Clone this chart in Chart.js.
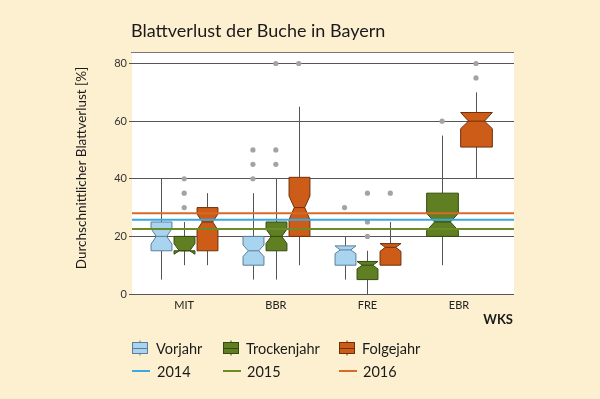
<!DOCTYPE html>
<html>
<head>
<meta charset="utf-8">
<script src="https://cdn.jsdelivr.net/npm/chart.js@4.4.1/dist/chart.umd.min.js"></script>
<style>
  html, body { margin: 0; padding: 0; background: #fdf0d0; }
  #wrap { width: 600px; height: 399px; }
</style>
</head>
<body>
<div id="wrap"><canvas id="chart" width="600" height="399"></canvas></div>
<script>
const categories = ['MIT', 'BBR', 'FRE', 'EBR'];
const seriesNames = ['Vorjahr', 'Trockenjahr', 'Folgejahr'];

// [lower whisker, Q1, median, Q3, upper whisker]; null = no box
const vorjahrStats = [[5, 15, 20, 25, 40], [5, 10, 15, 20, 35], [5, 10, 15.3, 16.7, 20], null];
const trockenStats = [[10, 15, 15, 20, 25], [5, 15, 20, 25, 40], [0, 5, 10, 11.3, 15], [10, 20, 25, 35, 55]];
const folgeStats = [[10, 15, 25, 30, 35], [10, 20, 30, 40.5, 65], [10, 10, 16.2, 17.5, 25], [40, 51, 60, 63, 70]];

// notch [low, high]
const vorjahrNotch = [[17.3, 22.7], [13, 17], [14, 16.7], null];
const trockenNotch = [[13.8, 17.5], [17.5, 22.5], [8.7, 11.3], [22, 28]];
const folgeNotch = [[22.2, 27.8], [25.8, 34], [14.8, 17.5], [57.4, 63]];

const vorjahrOutliers = [[], [40, 45, 50], [30], []];
const trockenOutliers = [[30, 35, 40], [45, 50, 80], [20, 25, 35], [60]];
const folgeOutliers = [[], [80], [35], [75, 80]];

const yearLabels = ['2014', '2015', '2016'];
const yearMeans = [25.75, 22.6, 28.05];
const yTicks = [0, 20, 40, 60, 80];

const allStats = [vorjahrStats, trockenStats, folgeStats];
const allNotch = [vorjahrNotch, trockenNotch, folgeNotch];
const allOutliers = [vorjahrOutliers, trockenOutliers, folgeOutliers];

// layout of the boxes inside each category
const slotOffset = [[-0.25, 0, 0.25], [-0.25, 0, 0.25], [-0.25, 0, 0.25], [0, -0.185, 0.185]];
const halfWidth = [0.114, 0.114, 0.114, 0.173];
const X_MIN = 0.43, X_MAX = 4.6;

const boxFill = ['#a8d4f0', '#5f7f22', '#cc5c17'];
const boxStroke = ['#5b7f98', '#34490f', '#70300a'];
const lineColors = ['#3aa9e2', '#6c8c27', '#d96a25'];
const FONT = 'Lato';

const outlierSets = allOutliers.map((outs, s) => ({
  label: seriesNames[s] + ' Ausreißer',
  data: outs.flatMap((vals, c) => vals.map((v) => ({ x: c + 1 + slotOffset[c][s], y: v }))),
  backgroundColor: '#a3a3a3',
  borderWidth: 0,
  pointRadius: 2.6,
}));

const yearSets = yearMeans.map((m, i) => ({
  label: yearLabels[i],
  data: [{ x: X_MIN, y: m }, { x: X_MAX, y: m }],
  showLine: true,
  borderColor: lineColors[i],
  borderWidth: 2,
  pointRadius: 0,
}));

const crisp = (v) => Math.round(v) + 0.5;

const boxPlot = {
  id: 'boxPlot',
  beforeDraw(chart) {
    const { ctx, chartArea: a } = chart;
    ctx.save();
    ctx.fillStyle = '#ffffff';
    ctx.fillRect(a.left, a.top, a.right - a.left, a.bottom - a.top);
    ctx.strokeStyle = '#777';
    ctx.lineWidth = 1;
    ctx.beginPath();
    ctx.moveTo(a.left - 1, crisp(a.top));
    ctx.lineTo(a.right, crisp(a.top));
    ctx.stroke();
    ctx.restore();
  },
  beforeDatasetsDraw(chart) {
    const { ctx, scales: { x, y } } = chart;
    ctx.save();
    allStats.forEach((stats, s) => {
      stats.forEach((st, c) => {
        if (!st) return;
        const cx = crisp(x.getPixelForValue(c + 1 + slotOffset[c][s]));
        const hw = x.getPixelForValue(1 + halfWidth[c]) - x.getPixelForValue(1);
        const [lo, q1, med, q3, hi] = st.map((v) => y.getPixelForValue(v));
        const [nLo, nHi] = allNotch[s][c].map((v) => y.getPixelForValue(v));

        ctx.strokeStyle = '#555';
        ctx.lineWidth = 1;
        ctx.beginPath();
        ctx.moveTo(cx, lo); ctx.lineTo(cx, q1);
        ctx.moveTo(cx, q3); ctx.lineTo(cx, hi);
        ctx.stroke();

        const L = cx - hw, R = cx + hw, Li = cx - hw / 2, Ri = cx + hw / 2;
        ctx.beginPath();
        ctx.moveTo(L, q1); ctx.lineTo(L, nLo); ctx.lineTo(Li, med); ctx.lineTo(L, nHi); ctx.lineTo(L, q3);
        ctx.lineTo(R, q3); ctx.lineTo(R, nHi); ctx.lineTo(Ri, med); ctx.lineTo(R, nLo); ctx.lineTo(R, q1);
        ctx.closePath();
        ctx.fillStyle = boxFill[s];
        ctx.fill();
        ctx.strokeStyle = boxStroke[s];
        ctx.stroke();

        ctx.beginPath();
        ctx.moveTo(Li, med); ctx.lineTo(Ri, med);
        ctx.stroke();
      });
    });
    ctx.restore();
  },
  afterDraw(chart) {
    const { ctx } = chart;
    ctx.save();
    ctx.fillStyle = '#1a1a1a';
    ctx.textBaseline = 'alphabetic';
    ctx.font = `18px ${FONT}`;
    ctx.fillText('Blattverlust der Buche in Bayern', 131, 37);

    ctx.font = `bold 13px ${FONT}`;
    ctx.textAlign = 'right';
    ctx.fillText('WKS', 513, 324);

    ctx.save();
    ctx.translate(82, 168);
    ctx.rotate(-Math.PI / 2);
    ctx.textAlign = 'center';
    ctx.textBaseline = 'middle';
    ctx.font = `13.5px ${FONT}`;
    ctx.fillText('Durchschnittlicher Blattverlust [%]', 0, 0);
    ctx.restore();

    // legend
    const iconX = [132, 223, 339];
    const textX = [156, 246, 362];
    const row1 = 348, row2 = 371;
    ctx.textAlign = 'left';
    ctx.textBaseline = 'middle';
    ctx.font = `14.5px ${FONT}`;
    seriesNames.forEach((name, i) => {
      const x0 = iconX[i] + 0.5, y0 = row1 - 5.5;
      ctx.fillStyle = boxFill[i];
      ctx.fillRect(x0, y0, 15, 11);
      ctx.strokeStyle = boxStroke[i];
      ctx.lineWidth = 1;
      ctx.strokeRect(x0, y0, 15, 11);
      ctx.beginPath();
      ctx.moveTo(x0, row1 + 0.5); ctx.lineTo(x0 + 15, row1 + 0.5);
      ctx.moveTo(x0 + 7.5, y0 - 2); ctx.lineTo(x0 + 7.5, y0);
      ctx.moveTo(x0 + 7.5, y0 + 11); ctx.lineTo(x0 + 7.5, y0 + 13);
      ctx.stroke();
      ctx.fillStyle = '#1a1a1a';
      ctx.fillText(name, textX[i], row1 + 1);

      ctx.strokeStyle = lineColors[i];
      ctx.lineWidth = 2;
      ctx.beginPath();
      ctx.moveTo(iconX[i], row2);
      ctx.lineTo(iconX[i] + 18, row2);
      ctx.stroke();
      ctx.fillText(yearLabels[i], textX[i] + 1, row2 + 1);
    });
    ctx.restore();
  },
};

new Chart(document.getElementById('chart'), {
  type: 'scatter',
  data: { datasets: [...yearSets, ...outlierSets] },
  options: {
    responsive: false,
    animation: false,
    events: [],
    layout: { padding: { top: 52, right: 86, bottom: 85, left: 0 } },
    plugins: {
      legend: { display: false },
      tooltip: { enabled: false },
      title: { display: false },
    },
    scales: {
      x: {
        type: 'linear',
        min: X_MIN,
        max: X_MAX,
        afterBuildTicks: (scale) => { scale.ticks = categories.map((c, i) => ({ value: i + 1 })); },
        afterFit: (scale) => { scale.height = 20; },
        grid: { display: false, drawTicks: false },
        border: { display: false },
        ticks: {
          autoSkip: false,
          padding: 5,
          color: '#222',
          font: { family: FONT, size: 11 },
          callback: (v) => categories[v - 1] || '',
        },
      },
      y: {
        min: 0,
        max: 84,
        afterBuildTicks: (scale) => { scale.ticks = yTicks.map((v) => ({ value: v })); },
        afterFit: (scale) => { scale.width = 132; },
        grid: { color: '#555', lineWidth: 1, tickLength: 3, drawTicks: true },
        border: { display: false },
        ticks: {
          padding: 2,
          color: '#333',
          font: { family: FONT, size: 11 },
        },
      },
    },
  },
  plugins: [boxPlot],
});
</script>
</body>
</html>
